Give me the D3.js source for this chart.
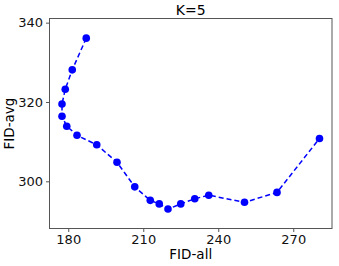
<!DOCTYPE html>
<html>
<head>
<meta charset="utf-8">
<script src="https://cdn.jsdelivr.net/npm/d3@7"></script>
<style>
  body { margin: 0; background: #fff; }
  text { font-family: "DejaVu Sans", sans-serif; }
</style>
</head>
<body>
<div id="chart"></div>
<script>
const fidAll = [187.2, 181.6, 178.8, 177.5, 177.5, 179.4, 183.5, 191.4, 199.5, 206.6,
  212.8, 216.4, 219.9, 225.0, 230.6, 236.2, 250.5, 263.5, 280.5];
const fidAvg = [336.1, 328.1, 323.2, 319.5, 316.4, 313.9, 311.6, 309.2, 304.8, 298.6,
  295.2, 294.3, 293.0, 294.3, 295.6, 296.5, 294.7, 297.2, 310.8];
const xTicks = [180, 210, 240, 270];
const yTicks = [300, 320, 340];

const width = 339;
const height = 266;
const margin = { left: 49.5, right: 7, top: 18.5, bottom: 37.5 };

const svg = d3.select('#chart')
  .append('svg')
  .attr('width', width)
  .attr('height', height);

const x = d3.scaleLinear()
  .domain([172.5, 285.5])
  .range([margin.left, width - margin.right]);

const y = d3.scaleLinear()
  .domain([288.1, 341.05])
  .range([height - margin.bottom, margin.top]);

const points = fidAll.map((v, i) => [v, fidAvg[i]]);

// Axes.
const xAxis = svg.append('g')
  .attr('transform', `translate(0,${height - margin.bottom})`)
  .call(d3.axisBottom(x).tickValues(xTicks).tickSize(3.5).tickPadding(3).tickSizeOuter(0));

const yAxis = svg.append('g')
  .attr('transform', `translate(${margin.left},0)`)
  .call(d3.axisLeft(y).tickValues(yTicks).tickSize(3.5).tickPadding(3).tickSizeOuter(0));

[xAxis, yAxis].forEach(g => {
  g.select('.domain').remove();
  g.selectAll('.tick line').attr('stroke', '#555');
  g.selectAll('.tick text')
    .attr('fill', '#111')
    .style('font-size', '13px')
    .style('font-family', '"DejaVu Sans", sans-serif');
});

svg.append('rect')
  .attr('x', margin.left)
  .attr('y', margin.top)
  .attr('width', width - margin.left - margin.right)
  .attr('height', height - margin.top - margin.bottom)
  .attr('fill', 'none')
  .attr('stroke', '#555')
  .attr('stroke-width', 1);

// Data.
const line = d3.line()
  .x(d => x(d[0]))
  .y(d => y(d[1]));

svg.append('path')
  .datum(points)
  .attr('d', line)
  .attr('fill', 'none')
  .attr('stroke', '#0000ff')
  .attr('stroke-width', 1.5)
  .attr('stroke-dasharray', '5,3');

svg.append('g')
  .selectAll('circle')
  .data(points)
  .join('circle')
  .attr('cx', d => x(d[0]))
  .attr('cy', d => y(d[1]))
  .attr('r', 3.8)
  .attr('fill', '#0000ff');

// Labels.
svg.append('text')
  .attr('x', (margin.left + width - margin.right) / 2)
  .attr('y', 14.5)
  .attr('text-anchor', 'middle')
  .style('font-size', '14px')
  .text('K=5');

svg.append('text')
  .attr('x', (margin.left + width - margin.right) / 2)
  .attr('y', 259)
  .attr('text-anchor', 'middle')
  .style('font-size', '13.5px')
  .text('FID-all');

svg.append('text')
  .attr('transform', `translate(13.5,${(margin.top + height - margin.bottom) / 2}) rotate(-90)`)
  .attr('text-anchor', 'middle')
  .style('font-size', '13.5px')
  .text('FID-avg');
</script>
</body>
</html>
